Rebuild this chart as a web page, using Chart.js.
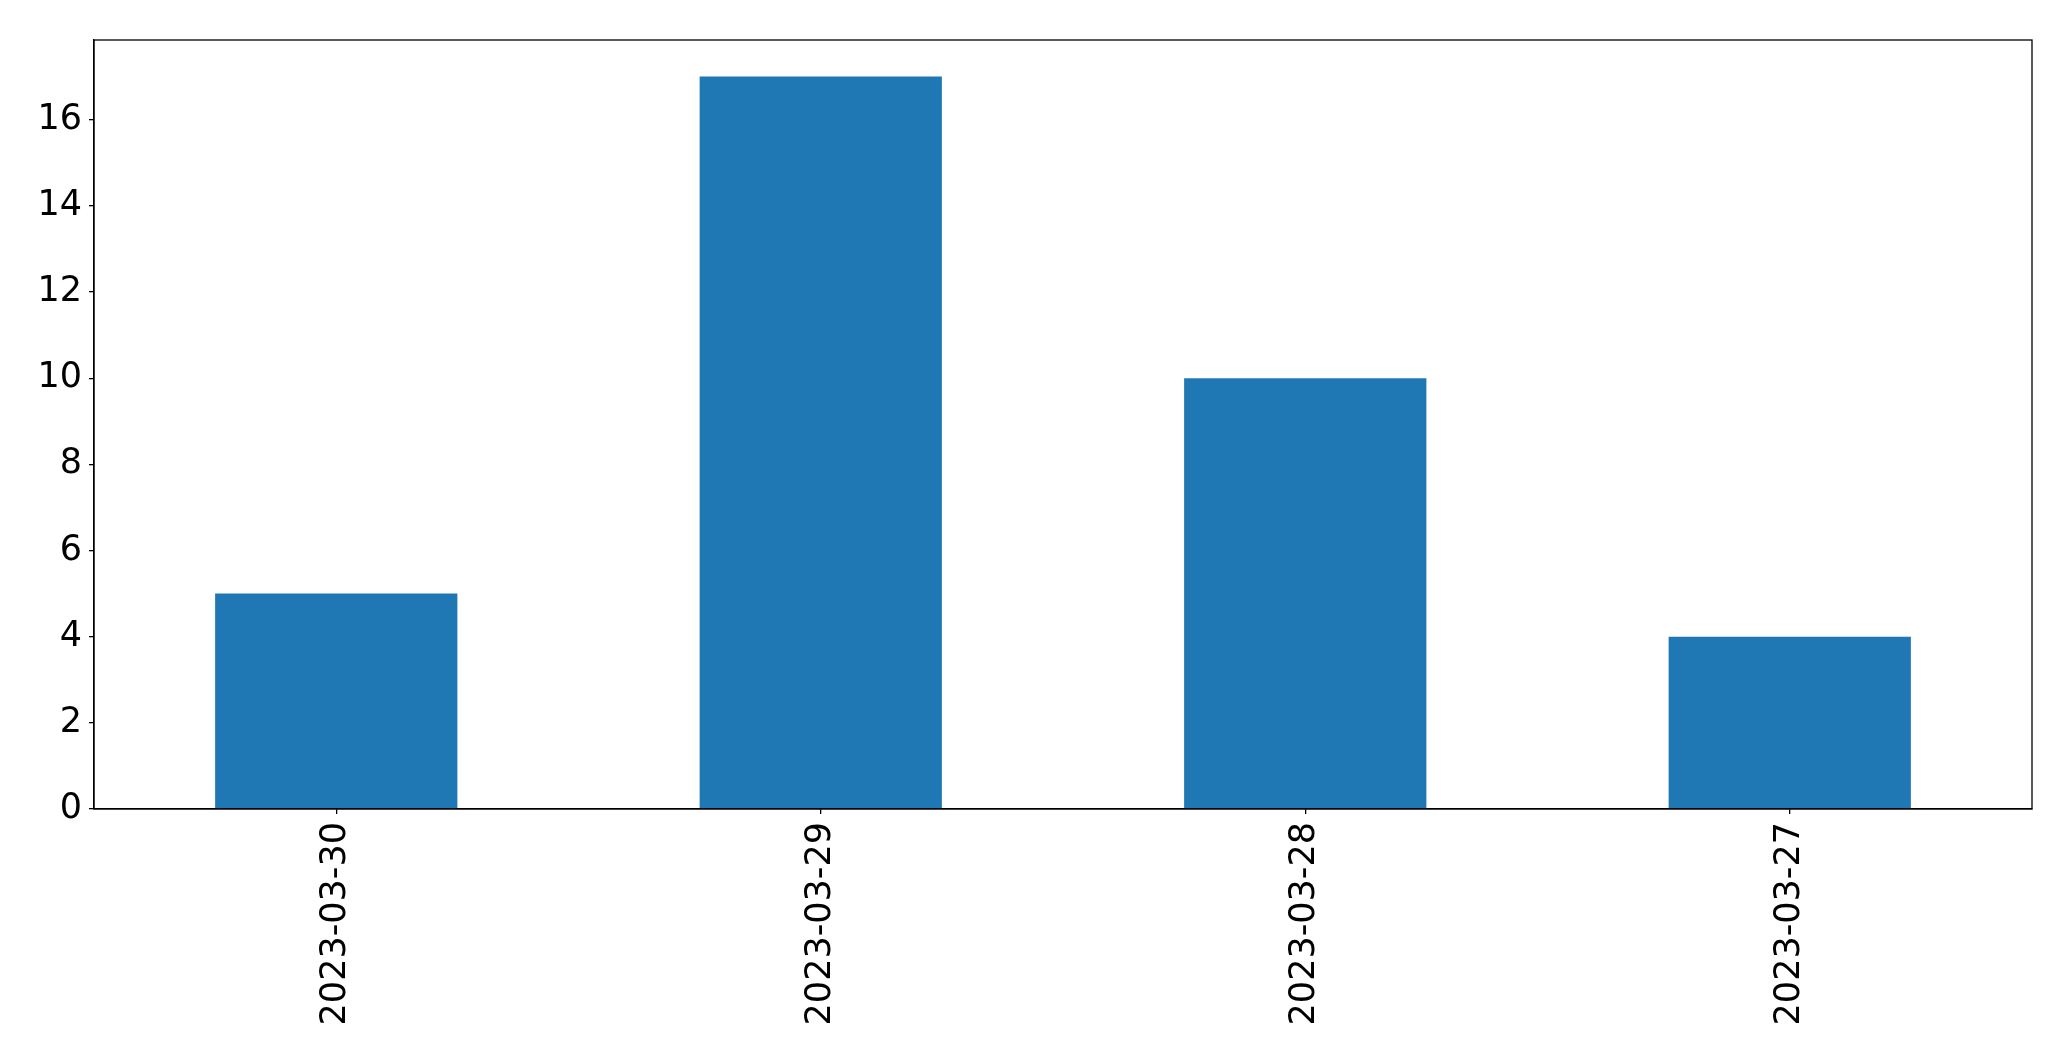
<!DOCTYPE html>
<html>
<head>
<meta charset="utf-8">
<script src="https://cdn.jsdelivr.net/npm/chart.js@4/dist/chart.umd.min.js"></script>
<style>
  html, body { margin: 0; padding: 0; background: #fff; }
  canvas { display: block; }
</style>
</head>
<body>
<canvas id="myChart" width="2071" height="1061"></canvas>
<script>
// Data
const dates = ["2023-03-30", "2023-03-29", "2023-03-28", "2023-03-27"];
const counts = [5, 17, 10, 4];
const yTicks = [0, 2, 4, 6, 8, 10, 12, 14, 16];

const font = { family: "'DejaVu Sans', sans-serif", size: 35 };

// Draws the top and right spines of the box
const boxPlugin = {
  id: 'box',
  afterDraw(chart) {
    const { ctx, chartArea } = chart;
    ctx.save();
    ctx.strokeStyle = '#000';
    ctx.lineWidth = 1.3;
    ctx.strokeRect(chartArea.left, chartArea.top, chartArea.right - chartArea.left, chartArea.bottom - chartArea.top);
    ctx.restore();
  }
};

const ctx = document.getElementById('myChart').getContext('2d');
new Chart(ctx, {
  type: 'bar',
  data: {
    labels: dates,
    datasets: [{
      data: counts,
      backgroundColor: '#1f77b4',
      barPercentage: 0.5,
      categoryPercentage: 1.0
    }]
  },
  options: {
    responsive: false,
    animation: false,
    layout: { padding: { top: 40, right: 39, left: 0, bottom: 0 } },
    plugins: {
      legend: { display: false },
      tooltip: { enabled: false }
    },
    scales: {
      x: {
        grid: { display: true, drawOnChartArea: false, offset: false, tickLength: 5, color: '#000', lineWidth: 1.3 },
        border: { display: true, color: '#000', width: 1.3 },
        ticks: { color: '#000', font: font, minRotation: 90, maxRotation: 90, padding: 8 },
        afterFit(axis) { axis.height = 252; }
      },
      y: {
        min: 0,
        max: Math.max(...counts) * 1.05,
        grid: { display: true, drawOnChartArea: false, tickLength: 5, color: '#000', lineWidth: 1.3 },
        border: { display: true, color: '#000', width: 1.3 },
        ticks: { color: '#000', font: font, padding: 7 },
        afterBuildTicks(axis) { axis.ticks = yTicks.map(v => ({ value: v })); },
        afterFit(axis) { axis.width = 94; }
      }
    }
  },
  plugins: [boxPlugin]
});
</script>
</body>
</html>
